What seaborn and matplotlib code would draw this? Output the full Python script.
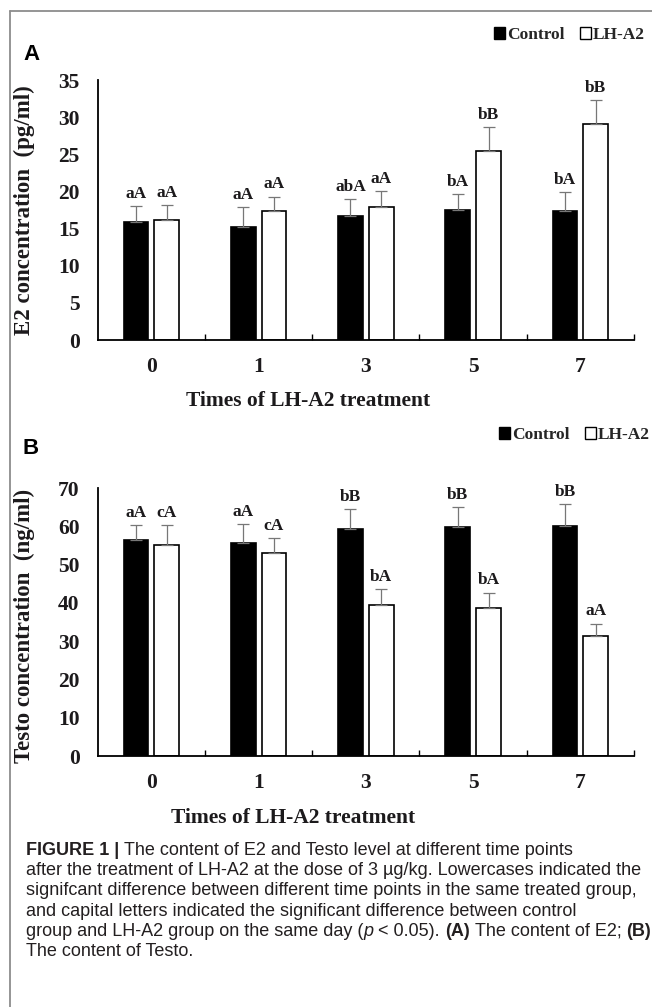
import numpy as np
import pandas as pd
import matplotlib
matplotlib.use("Agg")
import matplotlib.pyplot as plt
import seaborn as sns
from matplotlib.lines import Line2D
from matplotlib.patches import Patch
from matplotlib.ticker import FixedLocator, NullFormatter

# ---------------- data ----------------
days = ["0", "1", "3", "5", "7"]
groups = ["Control", "LH-A2"]

e2_control = [15.9, 15.2, 16.7, 17.5, 17.3]
e2_control_err = [2.1, 2.7, 2.3, 2.1, 2.6]
e2_lh = [16.2, 17.3, 17.9, 25.4, 29.1]
e2_lh_err = [2.0, 2.0, 2.2, 3.3, 3.2]
e2_control_letters = ["aA", "aA", "abA", "bA", "bA"]
e2_lh_letters = ["aA", "aA", "aA", "bB", "bB"]

testo_control = [56.4, 55.6, 59.3, 59.7, 60.0]
testo_control_err = [3.9, 5.0, 5.1, 5.3, 5.7]
testo_lh = [55.2, 53.0, 39.4, 38.7, 31.3]
testo_lh_err = [5.1, 4.0, 4.3, 4.0, 3.3]
testo_control_letters = ["aA", "aA", "bB", "bB", "bB"]
testo_lh_letters = ["cA", "cA", "bA", "bA", "aA"]

e2_yticks = [0, 5, 10, 15, 20, 25, 30, 35]
testo_yticks = [0, 10, 20, 30, 40, 50, 60, 70]

xlabel_text = "Times of LH-A2 treatment"
e2_ylabel = "E2 concentration  (pg/ml)"
testo_ylabel = "Testo concentration  (ng/ml)"

caption_lines = [
    [("FIGURE 1 | ", "bold", "normal"),
     ("The content of E2 and Testo level at different time points", "normal", "normal")],
    [("after the treatment of LH-A2 at the dose of 3 \u00b5g/kg. Lowercases indicated the", "normal", "normal")],
    [("signifcant difference between different time points in the same treated group,", "normal", "normal")],
    [("and capital letters indicated the significant difference between control", "normal", "normal")],
    [("group and LH-A2 group on the same day (", "normal", "normal"),
     ("p", "normal", "italic"),
     (" < 0.05). ", "normal", "normal"),
     ("(A)", "bold", "normal"),
     (" The content of E2; ", "normal", "normal"),
     ("(B)", "bold", "normal")],
    [("The content of Testo.", "normal", "normal")],
]

# ---------------- style ----------------
W, H = 652, 1007
sns.set_theme(style="white")
SERIF = ["Liberation Serif", "DejaVu Serif"]
SANS = ["Liberation Sans", "DejaVu Sans"]
plt.rcParams["font.family"] = SERIF
plt.rcParams["font.weight"] = "bold"
TXT = "#1c1a1c"

fig = plt.figure(figsize=(W / 100, H / 100), dpi=100)
fig.patch.set_facecolor("white")


def px_axes(left, top, right, bottom):
    return fig.add_axes([left / W, 1 - bottom / H, (right - left) / W, (bottom - top) / H])


def panel(ax, ctrl, ctrl_err, lh, lh_err, ctrl_lab, lh_lab, yticks, ylabel,
          ylab_y, xlab_x, legend_right, legend_y):
    df = pd.DataFrame({
        "day": days * 2,
        "group": [groups[0]] * len(days) + [groups[1]] * len(days),
        "value": list(ctrl) + list(lh),
    })
    sns.barplot(data=df, x="day", y="value", hue="group", order=days,
                hue_order=groups, palette={"Control": "black", "LH-A2": "white"},
                edgecolor="black", linewidth=1.2, width=0.574, gap=0.2,
                errorbar=None, legend=False, ax=ax, zorder=2)
    conts = list(ax.containers[:2])
    for cont, errs, labs in zip(conts, [ctrl_err, lh_err], [ctrl_lab, lh_lab]):
        xs = [b.get_x() + b.get_width() / 2 for b in cont]
        hs = [b.get_height() for b in cont]
        ax.errorbar(xs, hs, yerr=[np.zeros(len(errs)), errs], fmt="none",
                    ecolor="#777777", elinewidth=0.9, capsize=4.5, capthick=0.9,
                    zorder=3)
        for x, h, e, l in zip(xs, hs, errs, labs):
            ax.annotate(l, (x, h + e), xytext=(0, 3), textcoords="offset points",
                        ha="center", va="bottom", fontsize=12.5, fontweight="bold",
                        color=TXT)
    ax.set_xlim(-0.5, len(days) - 0.5)
    ax.set_ylim(yticks[0], yticks[-1])
    ax.set_yticks(yticks)
    ax.set_yticklabels([str(t) for t in yticks])
    for s in ["top", "right"]:
        ax.spines[s].set_visible(False)
    for s in ["left", "bottom"]:
        ax.spines[s].set_linewidth(1.3)
        ax.spines[s].set_color("black")
    ax.tick_params(axis="y", direction="in", length=4, width=1.0, pad=13,
                   labelsize=15.5, colors=TXT)
    ax.tick_params(axis="y", color="black")
    ax.tick_params(axis="x", which="major", length=0, pad=12, labelsize=15.5,
                   labelcolor=TXT)
    ax.xaxis.set_minor_locator(FixedLocator([i + 0.5 for i in range(len(days))]))
    ax.xaxis.set_minor_formatter(NullFormatter())
    ax.tick_params(axis="x", which="minor", direction="in", length=4, width=1.0,
                   color="black", bottom=True)
    for lab in ax.get_xticklabels() + ax.get_yticklabels():
        lab.set_fontweight("bold")
    ax.set_xlabel(xlabel_text, fontsize=15.5, fontweight="bold", color=TXT)
    ax.set_ylabel(ylabel, fontsize=16.5, fontweight="bold", color=TXT)
    ax.xaxis.set_label_coords(xlab_x, -0.195)
    ax.yaxis.set_label_coords(-0.117, ylab_y)
    ax.grid(False)
    ax.set_facecolor("none")
    handles = [Patch(facecolor="black", edgecolor="black", linewidth=1.0),
               Patch(facecolor="white", edgecolor="black", linewidth=1.0)]
    ax.legend(handles, groups, loc="center right",
              bbox_to_anchor=(legend_right / W, 1 - legend_y / H),
              bbox_transform=fig.transFigure, ncol=2, frameon=False,
              handlelength=0.65, handleheight=0.65, handletextpad=0.1,
              columnspacing=0.9, borderaxespad=0, borderpad=0,
              prop={"family": SERIF, "weight": "bold", "size": 12.5})


axA = px_axes(97.7, 80, 634, 340)
panel(axA, e2_control, e2_control_err, e2_lh, e2_lh_err,
      e2_control_letters, e2_lh_letters, e2_yticks, e2_ylabel,
      0.5, 0.392, 645, 35)

axB = px_axes(97.7, 488, 634, 756)
panel(axB, testo_control, testo_control_err, testo_lh, testo_lh_err,
      testo_control_letters, testo_lh_letters, testo_yticks, testo_ylabel,
      0.485, 0.365, 650, 435)

fig.text(23 / W, 1 - 55 / H, "A", family=SANS, weight="bold", fontsize=16,
         ha="left", va="center", color="black")
fig.text(23 / W, 1 - 449 / H, "B", family=SANS, weight="bold", fontsize=16,
         ha="left", va="center", color="black")

# frame lines of the figure box
fig.add_artist(Line2D([9.5 / W, 9.5 / W], [0, 1 - 10.5 / H],
                      transform=fig.transFigure, color="#8c8c8c", lw=1.3))
fig.add_artist(Line2D([9.5 / W, 1], [1 - 10.5 / H, 1 - 10.5 / H],
                      transform=fig.transFigure, color="#8c8c8c", lw=1.3))

# ---------------- caption ----------------
renderer = fig.canvas.get_renderer()
CAP_SIZE = 13
CAP_COLOR = "#231f20"


def meas(s, weight, style):
    t = fig.text(0, 0, s, family=SANS, weight=weight, style=style,
                 fontsize=CAP_SIZE, transform=None)
    w = t.get_window_extent(renderer).width
    t.remove()
    return w


def seg_w(s, weight, style):
    return meas("|" + s + "|", weight, style) - meas("||", weight, style)


for i, line in enumerate(caption_lines):
    x = 26.0
    y = H - (855 + 20.2 * i)
    for s, weight, style in line:
        lead = s[: len(s) - len(s.lstrip())]
        xd = x + (seg_w(lead, weight, style) if lead else 0)
        fig.text(xd, y, s.strip(), family=SANS, weight=weight, style=style,
                 fontsize=CAP_SIZE, color=CAP_COLOR, transform=None,
                 ha="left", va="baseline")
        x += seg_w(s, weight, style)

fig.savefig("out.png", dpi=100, facecolor="white")
